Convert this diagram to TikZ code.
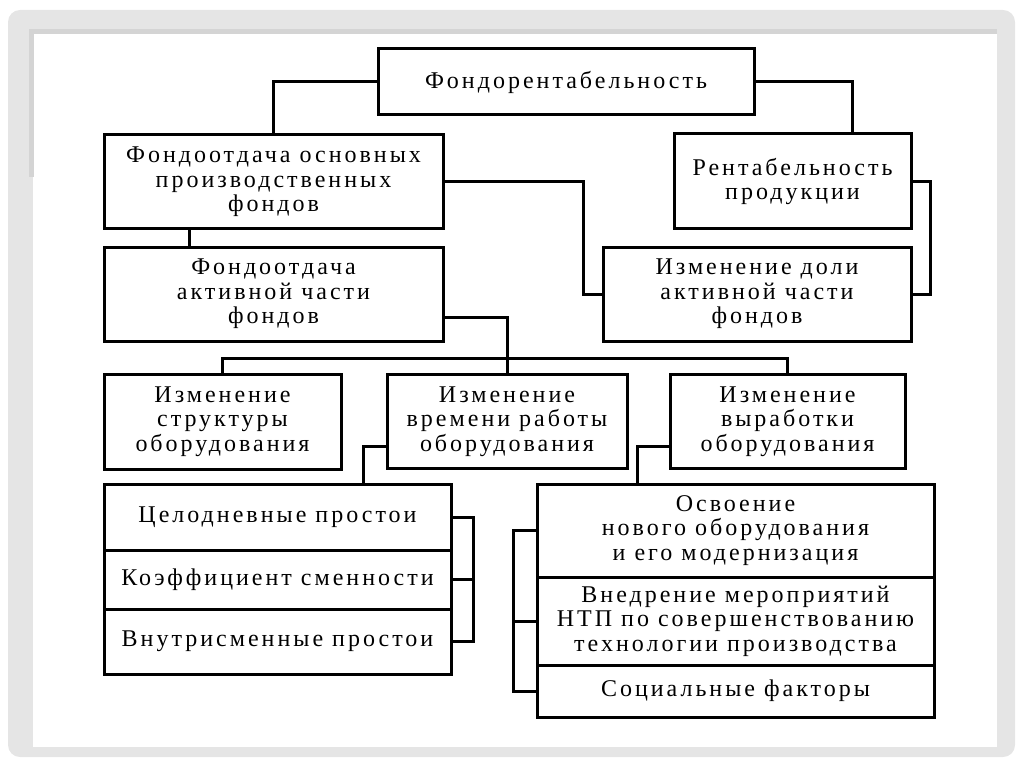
\documentclass[tikz,border=0pt]{standalone}
\usepackage{fontspec}
\setmainfont{Liberation Serif}[LetterSpace=12.5]
\usetikzlibrary{positioning}
\definecolor{ramka}{RGB}{229,229,229}
\definecolor{ramkaten}{RGB}{212,212,212}

\begin{document}
\begin{tikzpicture}[
    x = 1pt, y = -1pt,
    node distance = 18pt and 46pt,
    blok/.style = {rectangle, draw, line width=3pt, inner sep=0pt, outer sep=0pt, align=center},
    svyaz/.style = {black, line width=3pt},
    font=\fontsize{24}{24.5}\selectfont
    ]

  \useasboundingbox (0,0) rectangle (1024,767);
  \fill[ramka, rounded corners=12pt] (8,10) rectangle (1015,757);
  \fill[white] (33,33) rectangle (997,747);
  \fill[ramkaten] (29,29) rectangle (997,34);
  \fill[ramkaten] (29,29) rectangle (34,177);

  \node[blok, minimum width=376pt, minimum height=66pt] (fr) at (566,82) {Фондорентабельность};

  \node[blok, minimum width=339pt, minimum height=94pt] (fo) at (273.5,182) {Фондоотдача основных\\производственных\\фондов};
  \node[blok, minimum width=339pt, minimum height=94pt] (foa) [below=of fo] {Фондоотдача\\активной части\\фондов};

  \node[blok, minimum width=237pt, minimum height=95pt] (rp) at (792.5,181.5) {Рентабельность\\продукции};
  \node[blok, minimum width=308pt, minimum height=94pt] (idol) at (757,294) {Изменение доли\\активной части\\фондов};

  \node[blok, minimum width=237pt, minimum height=95pt] (str) at (222.5,421.5) {Изменение\\структуры\\оборудования};
  \node[blok, minimum width=240pt, minimum height=94pt] (vr) [right=of str] {Изменение\\времени работы\\оборудования};
  \node[blok, minimum width=235pt, minimum height=94pt] (vyr) [right=43pt of vr] {Изменение\\выработки\\оборудования};

  %\node[blok] (lstack) {...};
  \node[blok, minimum width=347pt, minimum height=66pt] (lrow1) at (277.5,517) {Целодневные простои};
  \node[blok, minimum width=347pt, minimum height=59pt] (lrow2) [below=0pt of lrow1] {Коэффициент сменности};
  \node[blok, minimum width=347pt, minimum height=65pt] (lrow3) [below=0pt of lrow2] {Внутрисменные простои};

  \node[blok, minimum width=397pt, minimum height=93pt] (rrow1) at (735.5,530.5) {Освоение\\нового оборудования\\и его модернизация};
  \node[blok, minimum width=397pt, minimum height=88pt] (rrow2) [below=0pt of rrow1] {Внедрение мероприятий\\НТП по совершенствованию\\технологии производства};
  \node[blok, minimum width=397pt, minimum height=52pt] (rrow3) [below=0pt of rrow2] {Социальные факторы};

  \draw[svyaz]
  (fr.west) -| (fo.north)
  (fr.east) -| ([xshift=-59pt]rp.north east)
  ([xshift=-84.5pt]fo.south) -- ([xshift=-84.5pt]foa.north)
  (fo.east) -- ++(140,0) |- (idol.west)
  (rp.east) -- ++(19,0) |- (idol.east)

  ([yshift=-23pt]foa.east) -| (vr.north)
  (str.north) -- ++(0,-16) -| (vyr.north)

  ([yshift=-25pt]vr.west) -| ([xshift=85.5pt]lrow1.north)
  ([yshift=-25pt]vyr.west) -| ([xshift=-98.5pt]rrow1.north)

  (lrow1.east) -- ++(22,0) |- (lrow3.east)
  (lrow2.east) -- ++(22,0)
  (rrow1.west) -- ++(-24,0) |- (rrow3.west)
  (rrow2.west) -- ++(-24,0);
\end{tikzpicture}
\end{document}
